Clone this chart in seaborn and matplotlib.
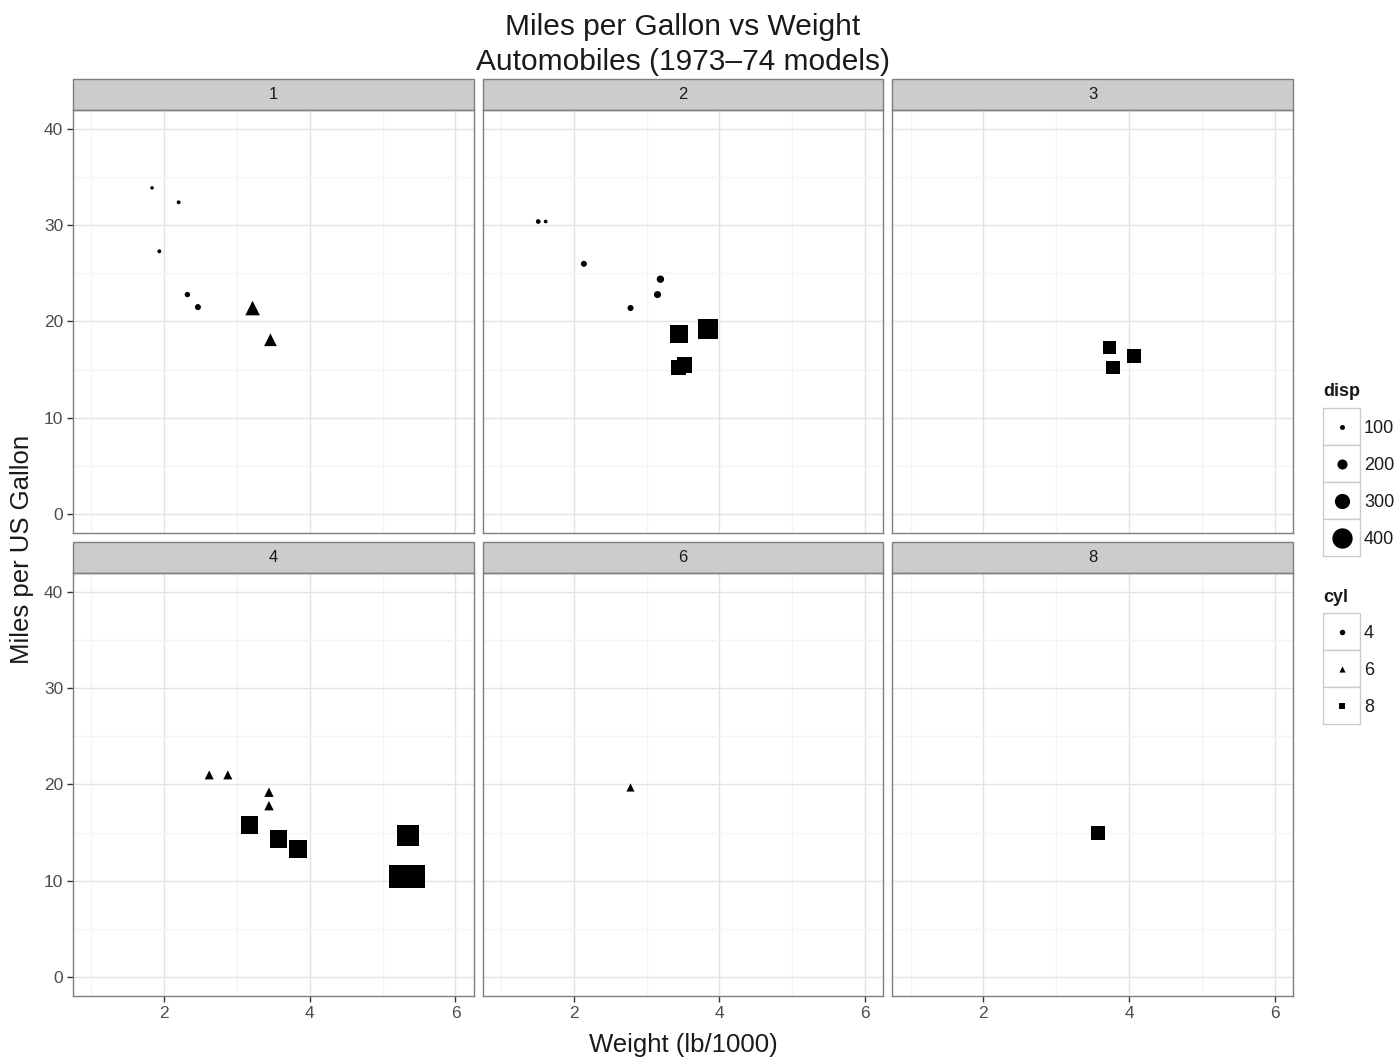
import numpy as np
import pandas as pd
import matplotlib
matplotlib.use("Agg")
import matplotlib.pyplot as plt
from matplotlib.patches import Rectangle
from matplotlib.ticker import AutoMinorLocator
import seaborn as sns

# mtcars, grouped by number of carburettors
carb = [1, 1, 1, 1, 1, 1, 1,
        2, 2, 2, 2, 2, 2, 2, 2, 2, 2,
        3, 3, 3,
        4, 4, 4, 4, 4, 4, 4, 4, 4, 4,
        6, 8]
wt = [2.320, 3.215, 3.460, 2.200, 1.835, 2.465, 1.935,
      3.440, 3.190, 3.150, 1.615, 3.520, 3.435, 3.845, 1.513, 2.140, 2.780,
      4.070, 3.730, 3.780,
      2.620, 2.875, 3.570, 3.440, 3.440, 5.250, 5.424, 5.345, 3.840, 3.170,
      2.770, 3.570]
mpg = [22.8, 21.4, 18.1, 32.4, 33.9, 21.5, 27.3,
       18.7, 24.4, 22.8, 30.4, 15.5, 15.2, 19.2, 30.4, 26.0, 21.4,
       16.4, 17.3, 15.2,
       21.0, 21.0, 14.3, 19.2, 17.8, 10.4, 10.4, 14.7, 13.3, 15.8,
       19.7, 15.0]
cyl = [4, 6, 6, 4, 4, 4, 4,
       8, 4, 4, 4, 8, 8, 8, 4, 4, 4,
       8, 8, 8,
       6, 6, 8, 6, 6, 8, 8, 8, 8, 8,
       6, 8]
disp = [108.0, 258.0, 225.0, 78.7, 71.1, 120.1, 79.0,
        360.0, 146.7, 140.8, 75.7, 318.0, 304.0, 400.0, 95.1, 120.3, 121.0,
        275.8, 275.8, 275.8,
        160.0, 160.0, 360.0, 167.6, 167.6, 472.0, 460.0, 440.0, 350.0, 351.0,
        145.0, 301.0]

carb_levels = [1, 2, 3, 4, 6, 8]
disp_breaks = [100, 200, 300, 400]
cyl_levels = [4, 6, 8]
cyl_markers = {4: "o", 6: "^", 8: "s"}
shape_scale = {4: 1.0, 6: 1.25, 8: 0.95}   # relative marker areas per shape

df = pd.DataFrame({"carb": carb, "wt": wt, "mpg": mpg, "cyl": cyl, "disp": disp})

DPI = 100
PX = 72 / DPI
dmin, dmax = min(disp), max(disp)


def disp_size(v):
    """linear size scale: marker diameter in px -> scatter size in pt^2."""
    t = (v - dmin) / (dmax - dmin)
    d = 3.5 + 20.5 * max(t, 0)
    return (d * PX) ** 2


size_map = {v: disp_size(v) for v in sorted(set(disp))}

sns.set_style("white")
plt.rcParams["font.family"] = ["Liberation Sans", "DejaVu Sans"]

g = sns.relplot(data=df, x="wt", y="mpg", col="carb", col_wrap=3,
                col_order=carb_levels, style="cyl", markers=cyl_markers,
                size="disp", sizes=size_map, color="black", linewidth=0,
                legend=False, height=4, aspect=1,
                facet_kws=dict(sharex=True, sharey=True))
fig = g.figure
fig.set_size_inches(1399 / DPI, 1059 / DPI)
fig.subplots_adjust(left=73 / 1399, right=1293 / 1399, top=1 - 110 / 1059,
                    bottom=1 - 996 / 1059, wspace=9 / 401, hspace=40 / 423)

grey50 = "#7f7f7f"
for i, (ax, c) in enumerate(zip(g.axes.flat, carb_levels)):
    sub = df[df["carb"] == c]
    coll = ax.collections[0]
    sz = np.array(coll.get_sizes(), dtype=float)
    if len(sz) == len(sub):
        sz = sz * sub["cyl"].map(shape_scale).to_numpy()
        coll.set_sizes(sz)
    ax.set_xlim(0.75, 6.25)
    ax.set_ylim(-2, 42)
    ax.set_xticks([2, 4, 6])
    ax.set_yticks([0, 10, 20, 30, 40])
    ax.xaxis.set_minor_locator(AutoMinorLocator(2))
    ax.yaxis.set_minor_locator(AutoMinorLocator(2))
    ax.grid(which="major", color="#e3e3e3", lw=1.0)
    ax.grid(which="minor", color="#f4f4f4", lw=1.0)
    ax.set_axisbelow(True)
    for s in ax.spines.values():
        s.set_visible(True)
        s.set_color(grey50)
        s.set_linewidth(1.0)
    bottom_row = i >= 3
    left_col = i % 3 == 0
    ax.tick_params(which="major", length=4, width=1, color="#333333",
                   labelsize=12.5, labelcolor="#4d4d4d", pad=3, direction="out",
                   bottom=bottom_row, left=left_col,
                   labelbottom=bottom_row, labelleft=left_col)
    ax.tick_params(which="minor", length=0)
    ax.set_title("")
    ax.set_xlabel("")
    ax.set_ylabel("")
    sh = 31 / 423
    ax.add_patch(Rectangle((0, 1), 1, sh, transform=ax.transAxes, clip_on=False,
                           facecolor="#cccccc", edgecolor=grey50, lw=1.0))
    ax.text(0.5, 1 + sh / 2, str(c), transform=ax.transAxes, ha="center",
            va="center", fontsize=12, color="#1a1a1a")

fig.text(683 / 1399, 1 - 27 / 1059, "Miles per Gallon vs Weight", ha="center",
         va="center", fontsize=21.5, color="#1a1a1a")
fig.text(683 / 1399, 1 - 62 / 1059, "Automobiles (1973\u201374 models)", ha="center",
         va="center", fontsize=21.5, color="#1a1a1a")
fig.text(683 / 1399, 1 - 1045 / 1059, "Weight (lb/1000)", ha="center",
         va="center", fontsize=18.5, color="#1a1a1a")
fig.text(22 / 1399, 1 - 549 / 1059, "Miles per US Gallon", ha="center",
         va="center", rotation=90, fontsize=18.5, color="#1a1a1a")

# legends drawn in a pixel-coordinate overlay
lax = fig.add_axes([0, 0, 1, 1], zorder=5)
lax.set_xlim(0, 1399)
lax.set_ylim(1059, 0)
lax.axis("off")
kx, kw, kh = 1323, 37, 37


def legend_block(title, y0, labels, handles):
    lax.text(kx, y0, title, ha="left", va="center", fontsize=13,
             fontweight="bold", color="#1a1a1a")
    top = y0 + 16
    for j, (lab, (mk, s)) in enumerate(zip(labels, handles)):
        yt = top + j * kh
        lax.add_patch(Rectangle((kx, yt), kw, kh, facecolor="white",
                                edgecolor="#cccccc", lw=1.0))
        lax.scatter([kx + kw / 2], [yt + kh / 2], s=s, marker=mk, color="black",
                    linewidths=0)
        lax.text(kx + kw + 4, yt + kh / 2 + 2, lab, ha="left", va="center",
                 fontsize=13, color="#1a1a1a")


legend_block("disp", 392, [str(b) for b in disp_breaks],
             [("o", disp_size(b)) for b in disp_breaks])
cyl_s = (5.5 * PX) ** 2
legend_block("cyl", 597, [str(c) for c in cyl_levels],
             [(cyl_markers[c], cyl_s * shape_scale[c]) for c in cyl_levels])

fig.savefig("out.png", dpi=DPI)
